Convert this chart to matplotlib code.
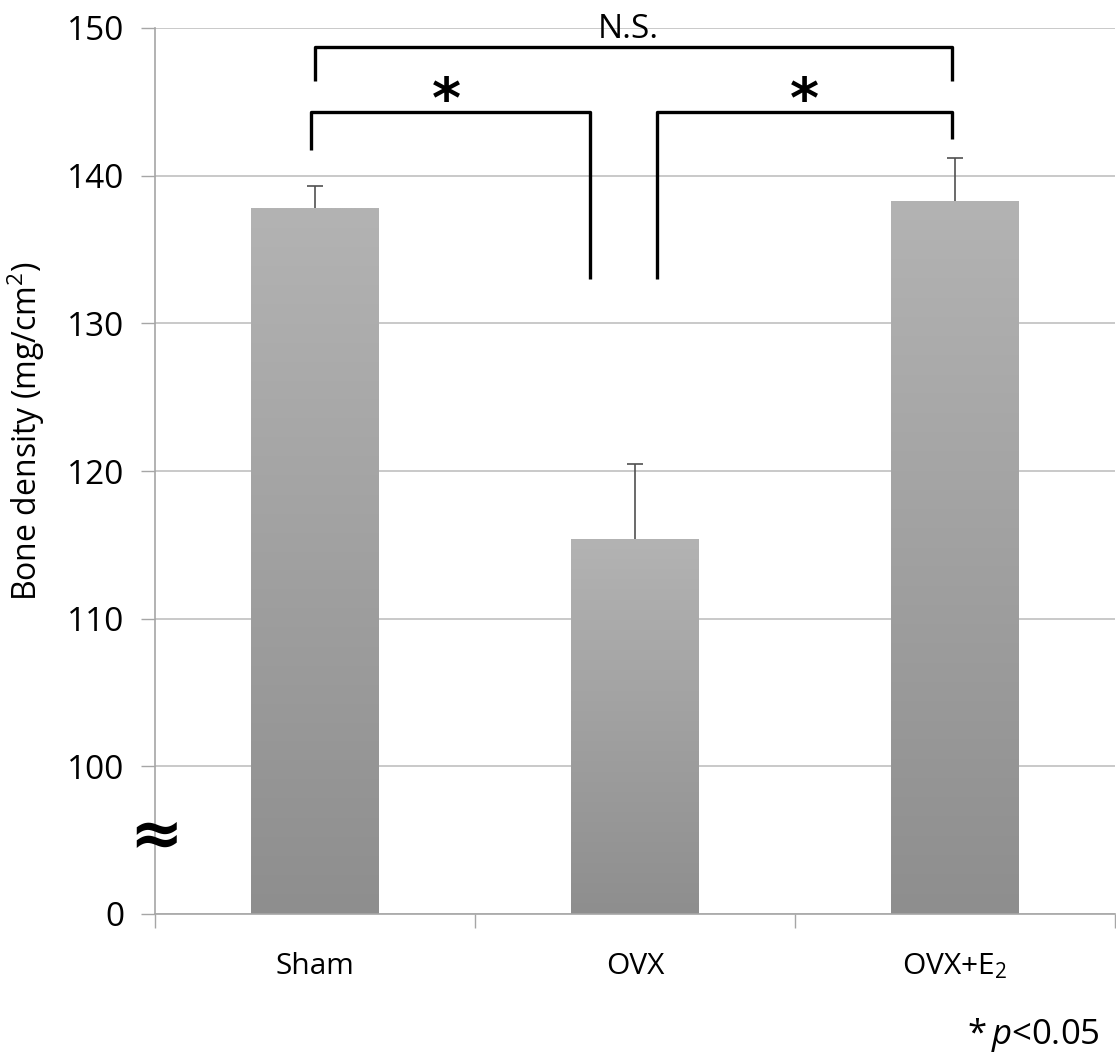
import matplotlib
matplotlib.use('Agg')
import matplotlib.pyplot as plt
import numpy as np
from matplotlib.colors import LinearSegmentedColormap

# ---- data ----
groups = ['Sham', 'OVX', 'OVX+E$_2$']
means = [137.8, 115.4, 138.3]
errors_up = [1.5, 5.1, 2.9]
ytick_values = [90, 100, 110, 120, 130, 140, 150]
ytick_labels = ['0', '100', '110', '120', '130', '140', '150']
axis_base = 90

plt.rcParams['font.family'] = ['Open Sans', 'DejaVu Sans']
plt.rcParams['mathtext.fontset'] = 'custom'
plt.rcParams['mathtext.rm'] = 'Open Sans'
plt.rcParams['mathtext.it'] = 'Open Sans:italic'

W, H = 1116, 1053
fig = plt.figure(figsize=(W / 100, H / 100), dpi=100)
ax = fig.add_axes([155 / W, 139 / H, 960 / W, 886 / H])

x = np.arange(len(groups))
heights = np.array(means) - axis_base
bars = ax.bar(x, heights, bottom=axis_base, width=0.4, color='none',
              edgecolor='none', zorder=2)

cmap = LinearSegmentedColormap.from_list('g', ['#8e8e8e', '#b3b3b3'])
grad = np.linspace(0, 1, 256).reshape(-1, 1)
for b in bars:
    x0, y0 = b.get_x(), b.get_y()
    im = ax.imshow(grad, cmap=cmap, origin='lower', aspect='auto',
                   extent=[x0, x0 + b.get_width(), y0, y0 + b.get_height()],
                   zorder=2)
    im.set_clip_path(b)

# upper-only error bars
tops = np.array(means) + np.array(errors_up)
ax.vlines(x, means, tops, color='#505050', lw=1.2, zorder=3)
ax.plot(x, tops, linestyle='none', marker='_', markersize=11,
        markeredgewidth=1.2, color='#505050', zorder=3)

ax.set_xlim(-0.5, 2.5)
ax.set_ylim(90, 150)

# y axis
ax.set_yticks(ytick_values)
ax.set_yticklabels(ytick_labels)
ax.tick_params(axis='y', length=10, width=1, color='#a6a6a6', labelsize=24, pad=12)
ax.yaxis.grid(True, color='#c0c0c0', lw=1.2, zorder=0)
ax.set_axisbelow(True)

# x axis: ticks at boundaries, labels at centres
ax.set_xticks([-0.5, 0.5, 1.5, 2.5])
ax.set_xticklabels([])
ax.set_xticks(x, minor=True)
ax.set_xticklabels(groups, minor=True)
ax.tick_params(axis='x', which='major', length=10, width=1, color='#a6a6a6')
ax.tick_params(axis='x', which='minor', length=0, labelsize=21.5, pad=27)

for s in ['top', 'right']:
    ax.spines[s].set_visible(False)
for s in ['left', 'bottom']:
    ax.spines[s].set_color('#a6a6a6')
    ax.spines[s].set_linewidth(1.2)

# significance brackets
kw = dict(color='black', lw=2.4, clip_on=False, zorder=5, solid_capstyle='butt')
ax.plot([0.0, 0.0, 1.99, 1.99], [146.4, 148.7, 148.7, 146.4], **kw)
ax.plot([-0.012, -0.012, 0.86, 0.86], [141.75, 144.3, 144.3, 133.0], **kw)
ax.plot([1.07, 1.07, 1.99, 1.99], [133.0, 144.3, 144.3, 142.5], **kw)
ax.text(0.98, 149.9, 'N.S.', fontsize=24, ha='center', va='center', zorder=6)
ax.text(0.41, 145.0, '*', fontsize=40, fontweight='bold', ha='center',
        va='center', family='DejaVu Sans')
ax.text(1.53, 145.0, '*', fontsize=40, fontweight='bold', ha='center',
        va='center', family='DejaVu Sans')

# axis break mark
ax.text(-0.497, 95.2, '≈', fontsize=46, fontweight='bold', ha='center',
        va='center', clip_on=False, zorder=6, family='DejaVu Sans')

fig.text(26 / W, 1 - 431 / H, 'Bone density (mg/cm$^2$)', rotation=90,
         ha='center', va='center', fontsize=23)
fig.text(1100 / W, 18 / H, '*$\\,p$<0.05', ha='right', va='center', fontsize=25)

fig.savefig('out.png', dpi=100)
